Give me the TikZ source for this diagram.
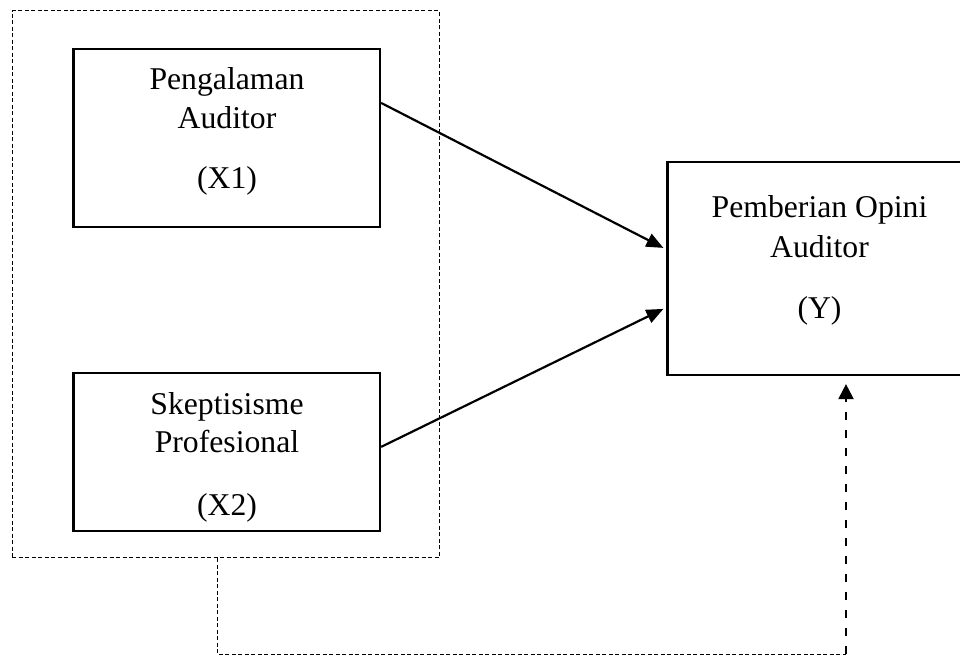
\documentclass[tikz,border=0pt]{standalone}
\usepackage{fontspec}
\setmainfont{Liberation Serif}
\usetikzlibrary{arrows.meta}
\begin{document}
\begin{tikzpicture}[x=1pt,y=-1pt,
  box/.style={draw, line width=2.2pt, rectangle, inner sep=0pt},
  lbl/.style={inner sep=0pt, anchor=base, font=\fontsize{31.7}{38}\selectfont},
  grpline/.style={draw, line width=1pt, dash pattern=on 4pt off 2.5pt},
  link/.style={line width=2.2pt, -{Triangle[length=17pt,width=14pt]}},
  fb/.style={line width=2.2pt, dash pattern=on 8pt off 10pt, -{Triangle[length=15pt,width=15pt]}}]
\useasboundingbox (0,0) rectangle (960,656);
\clip (0,0) rectangle (960,656);
% group frame
\node[grpline, rectangle, minimum width=427pt, minimum height=547pt, inner sep=0pt] (grp) at (225.5,284.25) {};
% boxes
\node[box, minimum width=306.5pt, minimum height=178pt] (x1) at (226.75,138) {};
\node[box, minimum width=306.5pt, minimum height=158pt] (x2) at (226.75,452) {};
\node[box, minimum width=306.5pt, minimum height=213pt] (y) at (820.75,268.5) {};
% texts
\node[lbl] (x1a) at (227,89) {Pengalaman};
\node[lbl] (x1b) at (227,128) {Auditor};
\node[lbl] (x1c) at (227,188) {(X1)};
\node[lbl] (x2a) at (227,414) {Skeptisisme};
\node[lbl] (x2b) at (227,452) {Profesional};
\node[lbl] (x2c) at (227,515) {(X2)};
\node[lbl] (ya) at (819.5,217) {Pemberian Opini};
\node[lbl] (yb) at (819.5,257) {Auditor};
\node[lbl] (yc) at (819.5,318) {(Y)};
% arrows
\draw[link] ([yshift=-55pt]x1.north east) -- ([yshift=-87pt,xshift=-3pt]y.north west);
\draw[link] ([yshift=-75pt]x2.north east) -- ([yshift=-148pt,xshift=-3pt]y.north west);
% feedback connector
\coordinate (corner) at (846,654);
\draw[grpline] ([xshift=-8.5pt]grp.south) |- (corner);
\draw[fb] (corner) -- ([xshift=25.25pt,yshift=-8pt]y.south);
\end{tikzpicture}
\end{document}
